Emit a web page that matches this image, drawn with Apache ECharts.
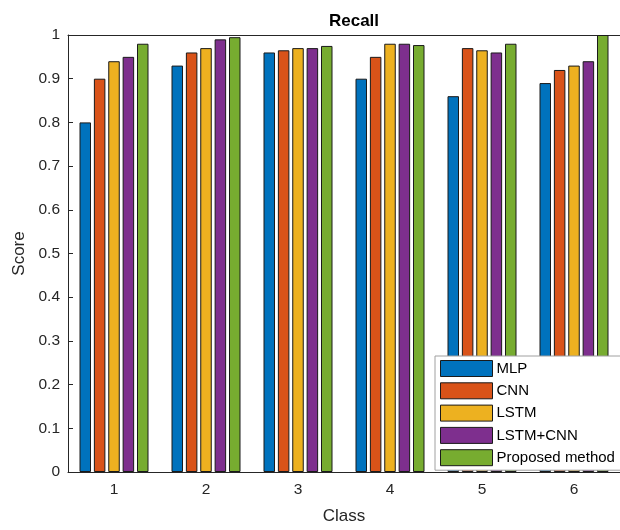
<!DOCTYPE html>
<html>
<head>
<meta charset="utf-8">
<script src="https://cdn.jsdelivr.net/npm/echarts@6/dist/echarts.min.js"></script>
<style>
  html, body { margin: 0; padding: 0; background: #fff; }
  #recall-chart { width: 620px; height: 530px; }
</style>
</head>
<body>
<div id="recall-chart"></div>
<script>
const classes = ['1', '2', '3', '4', '5', '6']
const mlp = [0.80, 0.93, 0.96, 0.90, 0.86, 0.89]
const cnn = [0.90, 0.96, 0.965, 0.95, 0.97, 0.92]
const lstm = [0.94, 0.97, 0.97, 0.98, 0.965, 0.93]
const lstmCnn = [0.95, 0.99, 0.97, 0.98, 0.96, 0.94]
const proposed = [0.98, 0.995, 0.975, 0.977, 0.98, 1.0]
const seriesNames = ['MLP', 'CNN', 'LSTM', 'LSTM+CNN', 'Proposed method']
const seriesData = [mlp, cnn, lstm, lstmCnn, proposed]

const font = 'Liberation Sans, Arial, sans-serif'
const ink = '#262626'

let myChart = echarts.init(document.getElementById('recall-chart'))
let option = {
  color: ['#0072BD', '#D95319', '#EDB120', '#7E2F8E', '#77AC30'],
  animation: false,
  textStyle: { fontFamily: font },
  title: {
    text: 'Recall',
    left: 349,
    top: 8,
    textAlign: 'center',
    textStyle: { fontSize: 17, fontWeight: 'bold', color: '#000', fontFamily: font }
  },
  legend: {
    orient: 'vertical',
    left: 435,
    top: 356,
    icon: 'rect',
    itemWidth: 52,
    itemHeight: 16,
    itemGap: 5.3,
    padding: [4, 30, 4, 5],
    backgroundColor: '#fff',
    borderColor: '#a0a0a0',
    borderWidth: 1,
    itemStyle: { borderColor: '#1a1a1a', borderWidth: 1 },
    textStyle: { fontSize: 15, color: '#000', fontFamily: font, padding: [0, 0, 0, -1] },
    data: seriesNames
  },
  grid: {
    left: 68,
    top: 35,
    width: 561,
    height: 441
  },
  xAxis: [
    {
      type: 'category',
      data: classes,
      name: 'Class',
      nameLocation: 'middle',
      nameGap: 36,
      nameTextStyle: { fontSize: 17, color: ink },
      axisLine: { lineStyle: { color: ink, width: 1 } },
      axisTick: { inside: true, alignWithLabel: true, length: 5, lineStyle: { color: ink } },
      axisLabel: { fontSize: 15.5, color: ink, margin: 10 }
    },
    {
      type: 'category',
      data: classes,
      position: 'top',
      axisLine: { lineStyle: { color: ink, width: 1 } },
      axisTick: { inside: true, alignWithLabel: true, length: 5, lineStyle: { color: ink } },
      axisLabel: { show: false }
    }
  ],
  yAxis: {
    type: 'value',
    min: 0,
    max: 1,
    interval: 0.1,
    name: 'Score',
    nameLocation: 'middle',
    nameGap: 40,
    nameTextStyle: { fontSize: 17, color: ink },
    axisLine: { show: true, lineStyle: { color: ink, width: 1 } },
    axisTick: { show: true, inside: true, length: 5, lineStyle: { color: ink } },
    axisLabel: { fontSize: 15.5, color: ink, margin: 8 },
    splitLine: { show: false }
  },
  series: seriesNames.map((name, i) => ({
    name: name,
    type: 'bar',
    data: seriesData[i],
    barWidth: 11.5,
    barGap: '25%',
    itemStyle: { borderColor: '#1a1a1a', borderWidth: 1 }
  }))
}
myChart.setOption(option)
</script>
</body>
</html>
